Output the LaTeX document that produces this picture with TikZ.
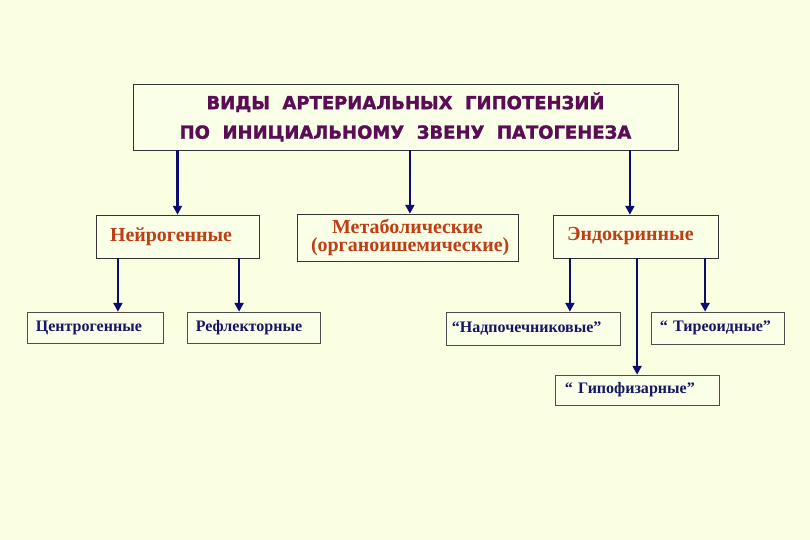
\documentclass[tikz,border=0pt]{standalone}
\usepackage{fontspec}
\setmainfont{Liberation Serif}
\newfontfamily\headfont[BoldFeatures={FakeBold=1.6}]{DejaVu Sans}
\usetikzlibrary{arrows.meta, positioning, calc}
\definecolor{bgyellow}{RGB}{250,255,225}
\definecolor{boxfill}{RGB}{250,255,232}
\definecolor{headpurple}{RGB}{92,12,84}
\definecolor{typered}{RGB}{190,62,22}
\definecolor{kindblue}{RGB}{22,22,100}
\definecolor{arrownavy}{RGB}{12,12,112}

\begin{document}
\begin{tikzpicture}[
  headbox/.style={rectangle, draw=black!80, fill=boxfill, minimum width=13.625cm, minimum height=1.65cm, align=center, font=\headfont\bfseries\fontsize{12.8}{21}\selectfont, text=headpurple},
  typebox/.style={rectangle, draw=black!80, fill=boxfill, minimum height=1.075cm, inner xsep=0.35cm, align=left, font=\bfseries\fontsize{14.2}{12.6}\selectfont, text=typered},
  kindbox/.style={rectangle, draw=black!70, fill=boxfill, minimum height=0.8cm, inner xsep=0.22cm, align=left, font=\bfseries\fontsize{11.4}{12}\selectfont, text=kindblue},
  arrow/.style={-{Triangle[length=2.2mm, width=2.2mm]}, line width=1.8pt, draw=arrownavy},
]
  \fill[bgyellow] (0,0) rectangle (20.25,-13.5);
  \useasboundingbox (0,0) rectangle (20.25,-13.5);

  % Title
  \node[headbox] (title) at (10.1375,-2.925) {ВИДЫ\ \ АРТЕРИАЛЬНЫХ\ \ ГИПОТЕНЗИЙ\\ПО\ \ ИНИЦИАЛЬНОМУ\ \ ЗВЕНУ\ \ ПАТОГЕНЕЗА};

  % Main types
  \node[typebox, text width=3.375cm] (neuro) at (4.4375,-5.9125) {Нейрогенные};
  \node[typebox, minimum height=1.175cm, text width=4.825cm, align=center] (metab) at (10.1875,-5.9375) {Метаболические\\(органоишемические)};
  \node[typebox, text width=3.425cm] (endo) at (15.8875,-5.9125) {Эндокринные};

  \draw[arrow] (title.south -| neuro.north) -- (neuro.north);
  \draw[arrow] ($(title.south -| metab.north)+(0.06,0)$) -- ($(metab.north)+(0.06,0)$);
  \draw[arrow] ($(title.south -| endo.north)+(-0.14,0)$) -- ($(endo.north)+(-0.14,0)$);

  % Neurogenic kinds
  \node[kindbox, minimum height=0.775cm, text width=2.96cm] (centro) at (2.375,-8.1875) {Центрогенные};
  \node[kindbox, minimum height=0.775cm, text width=2.885cm] (reflex) at (6.3375,-8.1875) {Рефлекторные};

  \draw[arrow] ([xshift=-1.49cm]neuro.south) -- ([xshift=-1.49cm]neuro.south |- centro.north);
  \draw[arrow] ([xshift=1.54cm]neuro.south) -- ([xshift=1.54cm]neuro.south |- reflex.north);

  % Endocrine kinds
  \node[kindbox, minimum height=0.825cm, text width=4.06cm, inner xsep=0.15cm] (adren) at (13.325,-8.2125) {“Надпочечниковые”};
  \node[kindbox, text width=2.885cm] (thyro) at (17.9375,-8.2) {“ Тиреоидные”};
  \node[kindbox, minimum height=0.75cm, text width=3.61cm, inner xsep=0.25cm] (hypo) at (15.925,-9.75) {“ Гипофизарные”};

  \draw[arrow] ([xshift=-1.64cm]endo.south) -- ([xshift=-1.64cm]endo.south |- adren.north);
  \draw[arrow] ([xshift=0.04cm]endo.south) -- ([xshift=0.04cm]endo.south |- hypo.north);
  \draw[arrow] ([xshift=1.74cm]endo.south) -- ([xshift=1.74cm]endo.south |- thyro.north);
\end{tikzpicture}
\end{document}
